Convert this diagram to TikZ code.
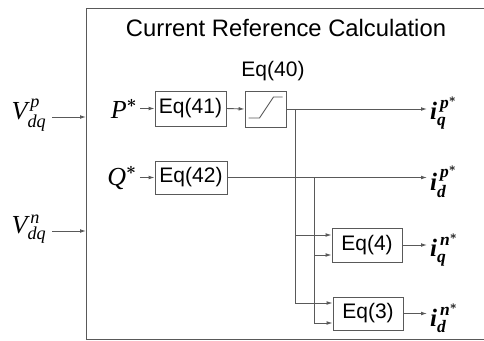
\documentclass[tikz,border=0pt]{standalone}
\usepackage{amsmath}
\usepackage{fontspec}
\setmainfont{Liberation Sans}
\newfontfamily\tms{Liberation Serif}
\newcommand{\ti}[1]{\text{\tms\itshape #1}}
\newcommand{\tb}[1]{\text{\tms\bfseries\itshape #1}}
\usetikzlibrary{arrows.meta}
\begin{document}
\begin{tikzpicture}[x=1pt,y=-1pt,
  ln/.style={draw=black!65, line width=0.9pt},
  arr/.style={ln, -{Latex[length=6pt,width=3.8pt]}},
  eqbox/.style={draw=black!65, line width=0.9pt, inner sep=0pt, font=\fontsize{21}{24}\selectfont},
  lbl/.style={inner sep=0pt, font=\fontsize{26}{30}\selectfont},
  olbl/.style={inner sep=0pt, anchor=west, font=\fontsize{25}{28}\selectfont}]
\useasboundingbox (0,0) rectangle (484,340);
\clip (0,0) rectangle (484,340);
\node[draw=black!65, line width=0.9pt, anchor=north west, minimum width=420pt, minimum height=331pt, inner sep=0pt] (outer) at (86,8) {};
\node[inner sep=0pt, font=\fontsize{23.8}{27}\selectfont] (title) at (286,28) {Current Reference Calculation};
% inputs
\node[lbl] (Vp) at (29,115) {$\ti{V}^{\,\ti{p}}_{\ti{dq}}$};
\node[lbl] (Vn) at (29,229) {$\ti{V}^{\,\ti{n}}_{\ti{dq}}$};
\coordinate (vpa) at (52,117);
\coordinate (vna) at (52,231);
\draw[arr] (vpa) -- (vpa -| outer.west);
\draw[arr] (vna) -- (vna -| outer.west);
% blocks
\node[eqbox, minimum width=71pt, minimum height=35pt] (e41) at (190.5,108.5) {Eq(41)};
\node[eqbox, minimum width=72pt, minimum height=33pt] (e42) at (191,177.5) {Eq(42)};
\node[eqbox, minimum width=41pt, minimum height=36pt] (sat) at (265.5,109) {};
\node[inner sep=0pt, font=\fontsize{21}{24}\selectfont] (e40lbl) at (273,71) {Eq(40)};
\node[eqbox, minimum width=70pt, minimum height=34pt] (e4) at (367,245) {Eq(4)};
\node[eqbox, minimum width=70pt, minimum height=33pt] (e3) at (368,313.5) {Eq(3)};
% saturation symbol
\draw[black!65, line width=0.9pt] ([shift={(-17,9)}]sat.center) -- ([shift={(-6,9)}]sat.center) -- ([shift={(8,-12)}]sat.center) -- ([shift={(17,-12)}]sat.center);
% P, Q
\node[lbl] (P) at (124,109) {$\ti{P}^{\boldsymbol{*}}$};
\node[lbl] (Q) at (122,178) {$\ti{Q}^{\boldsymbol{*}}$};
\draw[arr] ([xshift=3pt]P.east |- e41.west) -- (e41.west);
\draw[arr] ([xshift=3pt]Q.east |- e42.west) -- (e42.west);
\draw[arr] (e41.east) -- (sat.west);
% outputs
\node[olbl] (iqp) at (430,113) {$\tb{i}_{\tb{q}}^{\,\tb{p}^{\boldsymbol *}}$};
\node[olbl] (idp) at (430,182) {$\tb{i}_{\tb{d}}^{\,\tb{p}^{\boldsymbol *}}$};
\node[olbl] (iqn) at (430,250) {$\tb{i}_{\tb{q}}^{\,\tb{n}^{\boldsymbol *}}$};
\node[olbl] (idn) at (430,318) {$\tb{i}_{\tb{d}}^{\,\tb{n}^{\boldsymbol *}}$};
\coordinate (tipx) at (427,0);
\draw[arr] (sat.east) -- (sat.east -| tipx);
\draw[arr] (e42.east) -- (e42.east -| tipx);
\draw[arr] (e4.east) -- (e4.east -| tipx);
\draw[arr] (e3.east) -- (e3.east -| tipx);
% branches
\coordinate (j1) at (295,109);
\coordinate (j2) at (314,177.5);
\coordinate (a1) at (295,235);
\coordinate (a2) at (314,255);
\coordinate (b1) at (295,303);
\coordinate (b2) at (314,323);
\draw[ln] (j1) -- (b1);
\draw[ln] (j2) -- (b2);
\draw[arr] (a1) -- (a1 -| e4.west);
\draw[arr] (a2) -- (a2 -| e4.west);
\draw[arr] (b1) -- (b1 -| e3.west);
\draw[arr] (b2) -- (b2 -| e3.west);
\end{tikzpicture}
\end{document}
